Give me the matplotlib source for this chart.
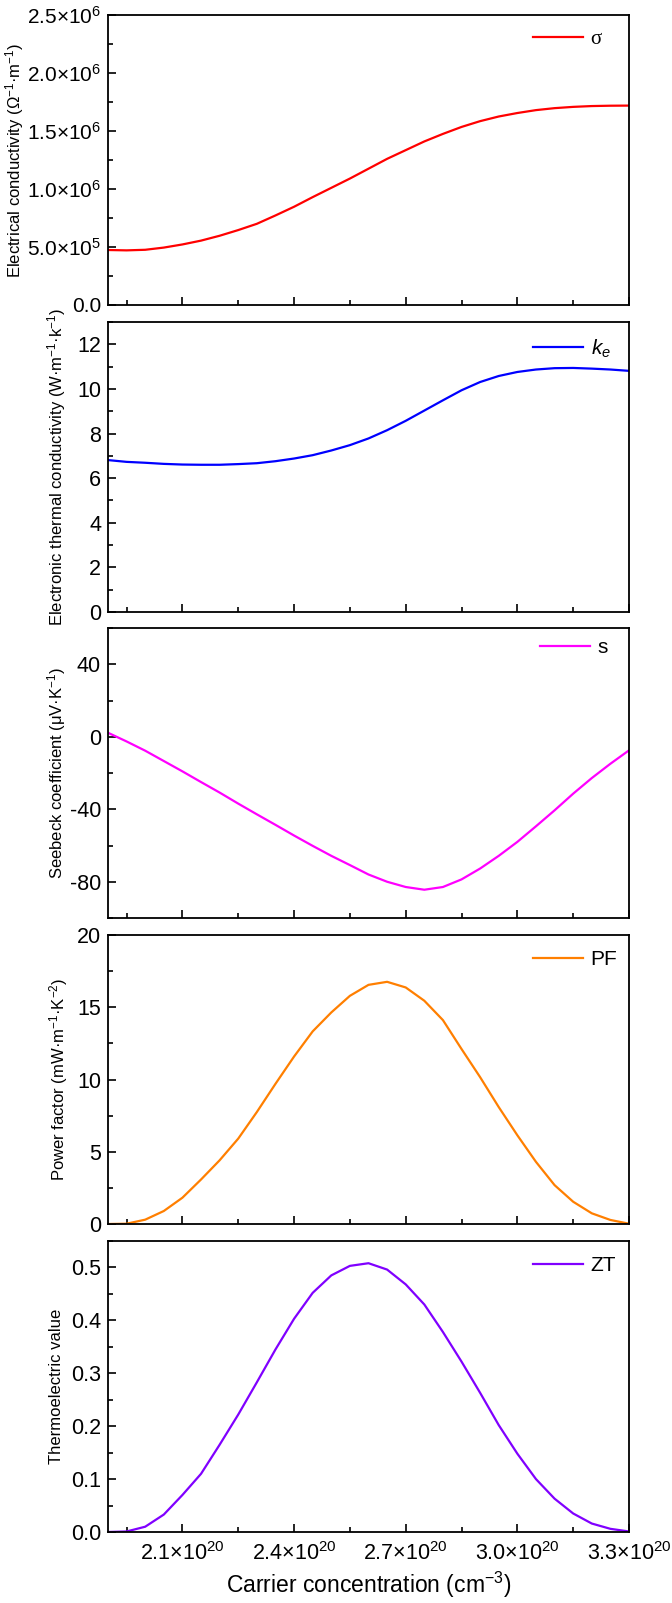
#!/usr/bin/env python3
"""
Thermoelectric properties vs carrier concentration - 5 stacked panels
"""

import numpy as np
import matplotlib
matplotlib.use('Agg')
import matplotlib.pyplot as plt
from matplotlib.ticker import MultipleLocator, FuncFormatter

# carrier concentration (cm^-3)
conc = [1.90e20, 1.95e20, 2.00e20, 2.05e20, 2.10e20, 2.15e20, 2.20e20, 2.25e20,
        2.30e20, 2.35e20, 2.40e20, 2.45e20, 2.50e20, 2.55e20, 2.60e20, 2.65e20,
        2.70e20, 2.75e20, 2.80e20, 2.85e20, 2.90e20, 2.95e20, 3.00e20, 3.05e20,
        3.10e20, 3.15e20, 3.20e20, 3.25e20, 3.30e20]

# electrical conductivity (Ohm^-1 m^-1)
sigma = [0.474e6, 0.471e6, 0.476e6, 0.495e6, 0.522e6, 0.555e6, 0.597e6, 0.646e6,
         0.700e6, 0.772e6, 0.847e6, 0.930e6, 1.010e6, 1.090e6, 1.175e6, 1.260e6,
         1.335e6, 1.410e6, 1.475e6, 1.535e6, 1.585e6, 1.625e6, 1.655e6, 1.680e6,
         1.697e6, 1.708e6, 1.715e6, 1.718e6, 1.719e6]

# electronic thermal conductivity (W m^-1 K^-1)
ke = [6.81, 6.73, 6.69, 6.64, 6.61, 6.60, 6.60, 6.63, 6.67, 6.76, 6.88, 7.03,
      7.24, 7.48, 7.78, 8.15, 8.57, 9.03, 9.49, 9.94, 10.31, 10.58, 10.76, 10.87,
      10.93, 10.94, 10.91, 10.87, 10.81]

# Seebeck coefficient (uV/K)
seebeck = [2.2, -2.6, -7.7, -13.4, -19.1, -25.0, -30.8, -36.9, -42.8, -48.6,
           -54.5, -60.2, -65.7, -70.8, -76.0, -80.0, -82.9, -84.4, -82.9, -78.7,
           -72.7, -65.7, -58.0, -49.4, -40.6, -31.4, -22.8, -14.9, -7.5]

# power factor (mW m^-1 K^-2)
pf = [0.0, 0.02, 0.30, 0.90, 1.82, 3.08, 4.41, 5.91, 7.75, 9.70, 11.59, 13.33,
      14.64, 15.79, 16.55, 16.76, 16.37, 15.45, 14.11, 12.11, 10.16, 8.09, 6.14,
      4.30, 2.69, 1.54, 0.74, 0.28, 0.02]

# ZT
zt = [0.000, 0.001, 0.010, 0.033, 0.070, 0.110, 0.165, 0.222, 0.283, 0.345,
      0.403, 0.452, 0.485, 0.503, 0.508, 0.496, 0.468, 0.430, 0.378, 0.322,
      0.263, 0.202, 0.148, 0.100, 0.063, 0.035, 0.016, 0.006, 0.001]

plt.rcParams['font.family'] = ['Liberation Sans', 'DejaVu Sans']
plt.rcParams['mathtext.fontset'] = 'custom'
plt.rcParams['mathtext.rm'] = 'Liberation Sans'
plt.rcParams['mathtext.it'] = 'Liberation Sans:italic'
plt.rcParams['mathtext.default'] = 'regular'
plt.rcParams['axes.unicode_minus'] = False


def sci_fmt(v, pos):
    if v == 0:
        return '0.0'
    exp = int(np.floor(np.log10(abs(v))))
    mant = v / 10 ** exp
    return r'$%.1f{\times}10^{%d}$' % (mant, exp)


fig = plt.figure(figsize=(6.72, 16.03), dpi=100)
W, H = 672, 1603
left, right = 108, 629
panels_px = [(15, 305), (322, 612), (628, 918), (935, 1224), (1241, 1532)]
# right edge of each rotated y label, in pixels from the figure's left
ylabel_px = [26, 68, 68, 70, 64]
# legend anchor (upper-left corner), pixels: x from figure left, y below panel top
legend_px = [(525, 6), (525, 7), (532, 2), (525, 7), (525, 7)]

series = [
    (sigma, '#FF0000', 'σ', 'Electrical conductivity (Ω$^{-1}$·m$^{-1}$)',
     (0, 2.5e6), 0.5e6, 0.25e6),
    (ke, '#0000FF', r'$\mathit{k_e}$', 'Electronic thermal conductivity (W·m$^{-1}$·k$^{-1}$)',
     (0, 13), 2, 1),
    (seebeck, '#FF00FF', 's', 'Seebeck coefficient (μV·K$^{-1}$)',
     (-100, 60), 40, 20),
    (pf, '#FF7F00', 'PF', 'Power factor (mW·m$^{-1}$·K$^{-2}$)',
     (0, 20), 5, 2.5),
    (zt, '#8000FF', 'ZT', 'Thermoelectric value',
     (0, 0.55), 0.1, 0.05),
]

axes = []
for i, ((top, bot), (y, color, lab, ylab, ylim, maj, mnr)) in enumerate(zip(panels_px, series)):
    ax = fig.add_axes([left / W, 1 - bot / H, (right - left) / W, (bot - top) / H])
    ax.plot(conc, y, color=color, linewidth=1.6, label=lab)
    ax.set_xlim(1.9e20, 3.3e20)
    ax.set_ylim(*ylim)
    ax.yaxis.set_major_locator(MultipleLocator(maj))
    ax.yaxis.set_minor_locator(MultipleLocator(mnr))
    ax.xaxis.set_major_locator(MultipleLocator(0.3e20))
    ax.xaxis.set_minor_locator(MultipleLocator(0.15e20))
    ax.tick_params(which='both', direction='in', top=False, right=False, labelsize=15.5, pad=5)
    ax.tick_params(axis='x', pad=7)
    ax.tick_params(which='major', length=6, width=1.2)
    ax.tick_params(which='minor', length=3.5, width=1.2)
    for sp in ax.spines.values():
        sp.set_linewidth(1.3)
    ax.set_ylabel(ylab, fontsize=12)
    ax.yaxis.set_label_coords((ylabel_px[i] - left) / (right - left), 0.5)

    if i == 0:
        ax.yaxis.set_major_formatter(FuncFormatter(sci_fmt))
        ax.tick_params(axis='y', labelsize=15)
    elif i == 4:
        ax.yaxis.set_major_formatter(FuncFormatter(lambda v, p: '%.1f' % v))
    else:
        ax.yaxis.set_major_formatter(FuncFormatter(lambda v, p: '%d' % round(v)))

    if i < 4:
        ax.tick_params(labelbottom=False)
    else:
        ax.xaxis.set_major_formatter(FuncFormatter(
            lambda v, p: r'$%.1f{\times}10^{20}$' % (v / 1e20)))
        ax.set_xlabel('Carrier concentration (cm$^{-3}$)', fontsize=16.5, labelpad=4)

    lx, ly = legend_px[i]
    leg = ax.legend(loc='upper left', frameon=False, fontsize=15,
                    bbox_to_anchor=((lx - left) / (right - left), 1 - ly / (bot - top)),
                    handlelength=2.4, handletextpad=0.35, borderaxespad=0)
    if i == 0:
        leg.get_texts()[0].set_family('Liberation Serif')
    axes.append(ax)

fig.savefig('out.png', dpi=100)
print('saved out.png')
